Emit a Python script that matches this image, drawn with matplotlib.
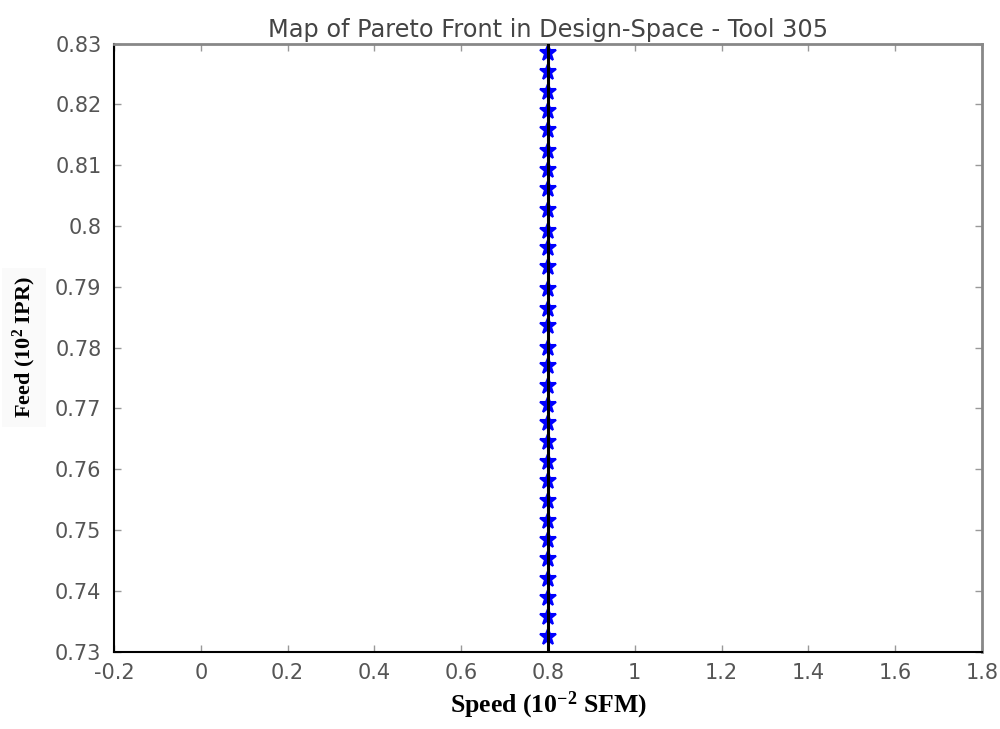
import numpy as np
import matplotlib
matplotlib.use("Agg")
import matplotlib.pyplot as plt

plt.rcParams["mathtext.default"] = "regular"

# Pareto front points in design space (speed constant at 0.8)
feed = [0.8285, 0.8253, 0.8220, 0.8189, 0.8158, 0.8123, 0.8092, 0.8061,
        0.8026, 0.7992, 0.7963, 0.7933, 0.7896, 0.7863, 0.7835, 0.7800,
        0.7770, 0.7737, 0.7705, 0.7676, 0.7645, 0.7611, 0.7581, 0.7548,
        0.7514, 0.7483, 0.7452, 0.7419, 0.7388, 0.7357, 0.7324]
speed = [0.8] * len(feed)

xticks = [-0.2, 0, 0.2, 0.4, 0.6, 0.8, 1, 1.2, 1.4, 1.6, 1.8]
xticklabels = ["-0.2", "0", "0.2", "0.4", "0.6", "0.8", "1", "1.2", "1.4", "1.6", "1.8"]
yticks = [0.73, 0.74, 0.75, 0.76, 0.77, 0.78, 0.79, 0.8, 0.81, 0.82, 0.83]
yticklabels = ["0.73", "0.74", "0.75", "0.76", "0.77", "0.78", "0.79", "0.8", "0.81", "0.82", "0.83"]

fig = plt.figure(figsize=(10, 7.29), dpi=100)
ax = fig.add_axes([0.114, 0.1063, 0.868, 0.834])

# markers first, black line on top
ax.plot(speed, feed, linestyle="none", marker="*", markersize=12,
        markerfacecolor="blue", markeredgecolor="blue", markeredgewidth=1.5, zorder=2)
ax.axvline(speed[0], color="black", linewidth=2.2, zorder=3)

ax.set_xlim(-0.2, 1.8)
ax.set_ylim(0.73, 0.83)
ax.set_xticks(xticks)
ax.set_xticklabels(xticklabels)
ax.set_yticks(yticks)
ax.set_yticklabels(yticklabels)

for lab in ax.get_xticklabels() + ax.get_yticklabels():
    lab.set_fontfamily("DejaVu Sans")
    lab.set_fontsize(15)
    lab.set_color("#555555")

ax.tick_params(direction="in", length=5, width=1, color="#999999",
               top=True, right=True)
ax.tick_params(axis="y", pad=9)
ax.tick_params(axis="x", pad=8)

for side in ["left", "bottom"]:
    ax.spines[side].set_color("black")
    ax.spines[side].set_linewidth(1.5)
for side in ["top", "right"]:
    ax.spines[side].set_color("#888888")
    ax.spines[side].set_linewidth(2)

ax.set_title("Map of Pareto Front in Design-Space - Tool 305",
             fontfamily="DejaVu Sans", fontsize=17.3, color="#444444", pad=5)
ax.set_xlabel("Speed (10$^{-2}$ SFM)", fontfamily="Liberation Serif",
              fontweight="bold", fontsize=18.5, labelpad=5)
ax.set_ylabel("Feed (10$^{2}$ IPR)", fontfamily="Liberation Serif",
              fontweight="bold", fontsize=16,
              bbox=dict(facecolor="#fafafa", edgecolor="none", pad=6))
ax.yaxis.set_label_coords(-0.088, 0.5)

fig.savefig("out.png", dpi=100)
